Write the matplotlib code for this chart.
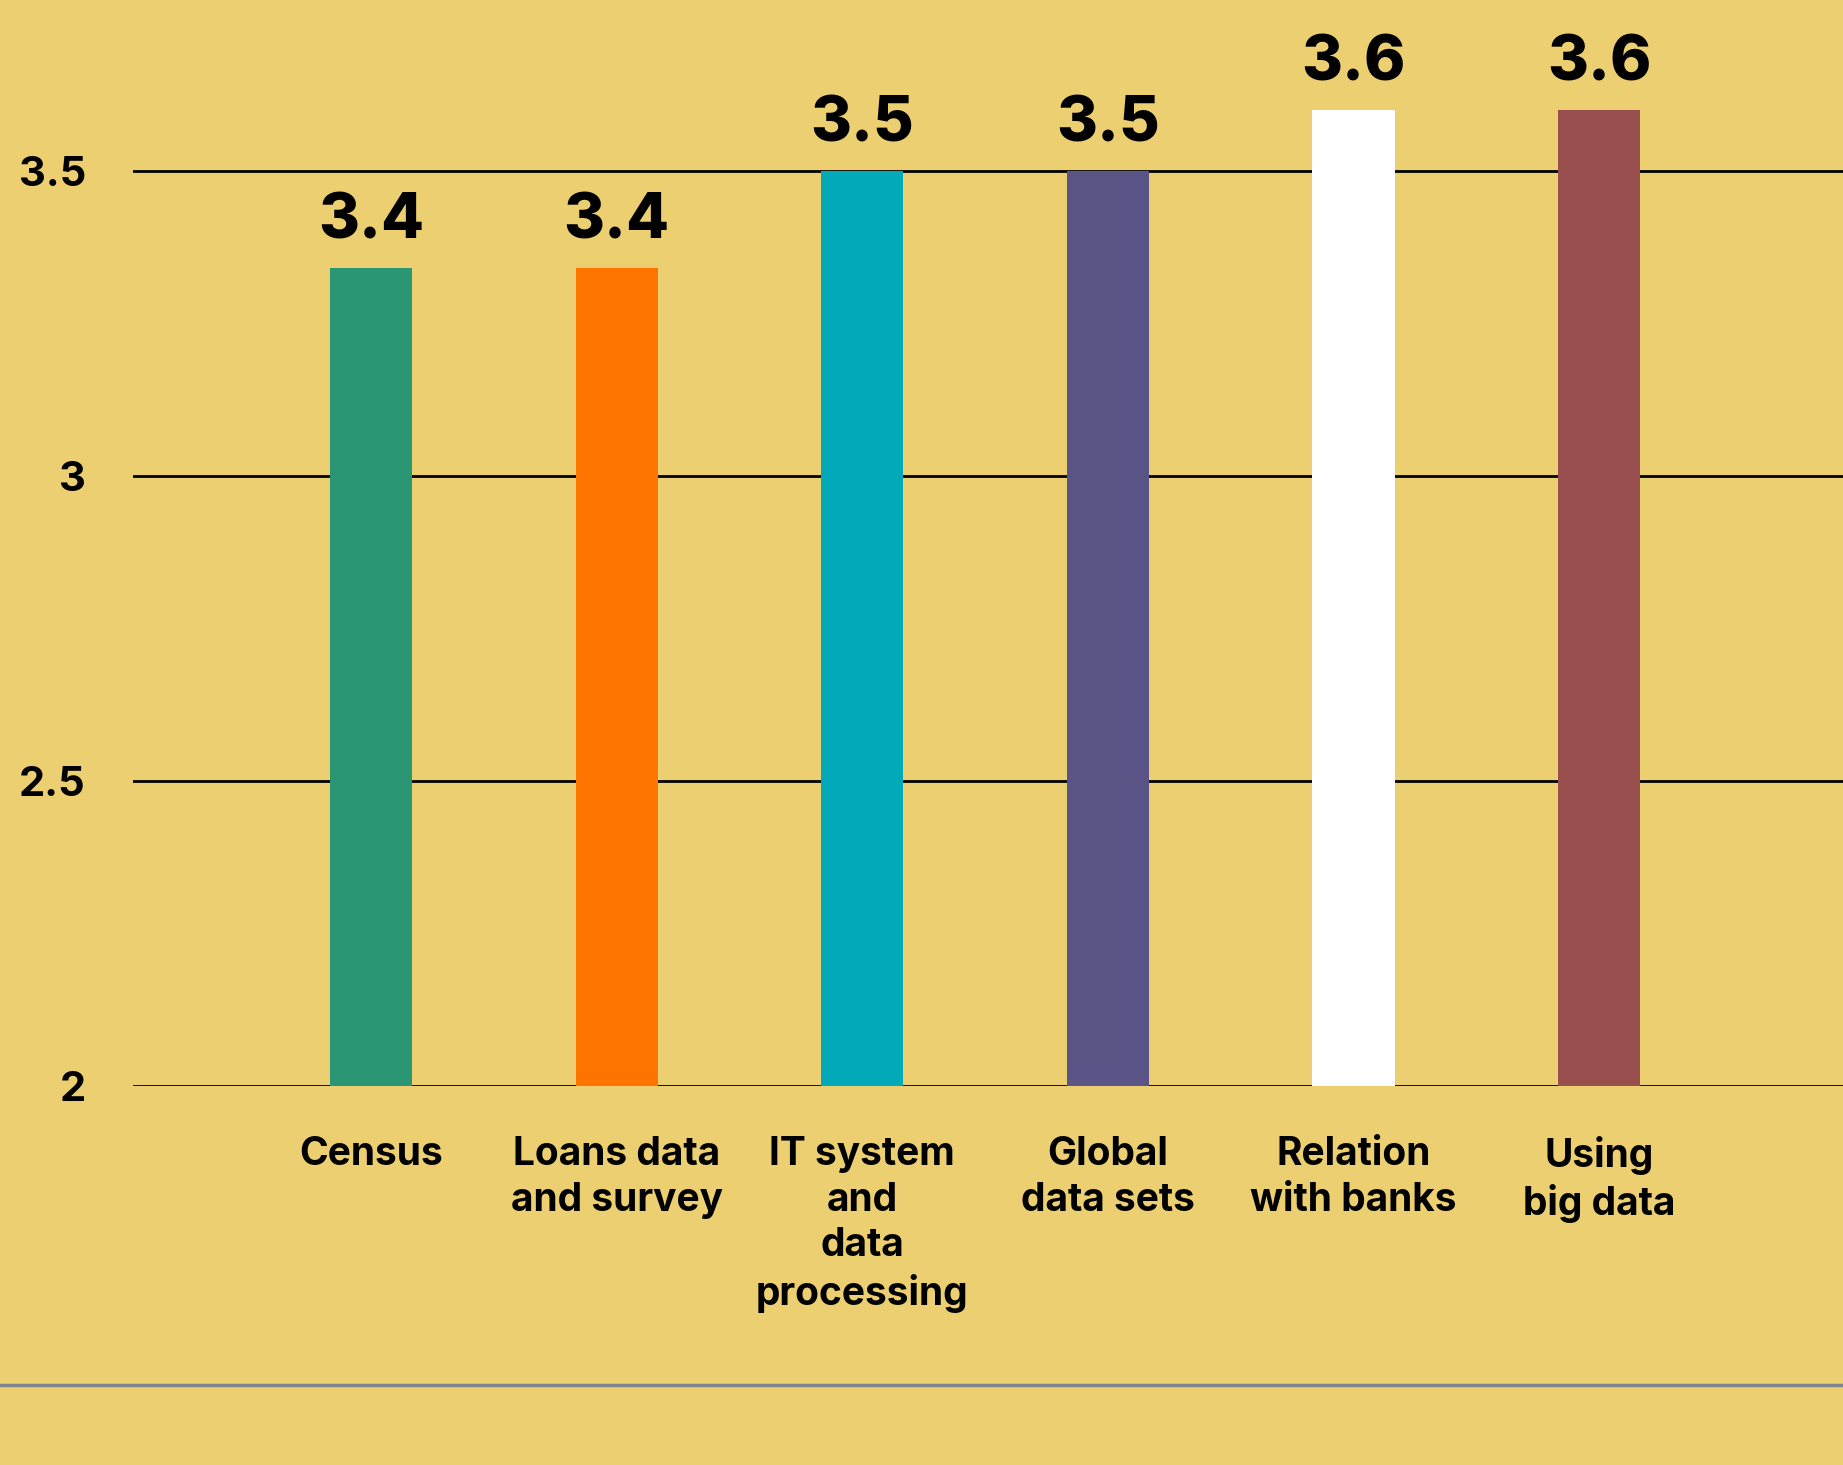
import matplotlib.pyplot as plt
import numpy as np

categories = ['Census', 'Loans data\nand survey', 'IT system\nand\ndata\nprocessing',
              'Global\ndata sets', 'Relation\nwith banks', 'Using\nbig data']
values = [3.34, 3.34, 3.5, 3.5, 3.6, 3.6]
value_labels = ['3.4', '3.4', '3.5', '3.5', '3.6', '3.6']
colors = ['#2A9673', '#FD7500', '#02A9B8', '#5B5486', '#FFFFFF', '#9A4F4F']
yticks = [2, 2.5, 3, 3.5]
ytick_labels = ['2', '2.5', '3', '3.5']

bg = '#EBCF70'
font = 'Inter'

fig = plt.figure(figsize=(18.43, 14.65), dpi=100, facecolor=bg)
ax = fig.add_axes([0.0722, 0.2587, 0.9278, 0.7413])
ax.set_facecolor(bg)

x = np.arange(len(categories))
ax.bar(x, [v - 2 for v in values], bottom=2, width=0.334, color=colors, zorder=3)

for xi, v, lab in zip(x, values, value_labels):
    ax.annotate(lab, (xi, v), xytext=(0, 12), textcoords='offset points',
                ha='center', va='bottom', fontsize=45, fontweight='heavy',
                family=font, color='black', annotation_clip=False)

ax.set_xlim(-0.969, 5.993)
ax.set_ylim(2, 3.78)
ax.set_yticks(yticks)
ax.set_yticklabels(ytick_labels, fontsize=30, fontweight='bold', family=font)
ax.tick_params(axis='y', length=0, pad=34)
ax.set_xticks(x)
ax.set_xticklabels(categories, fontsize=28, fontweight='bold', family=font,
                   linespacing=1.3)
ax.tick_params(axis='x', length=0, pad=36)

ax.grid(axis='y', color='black', linewidth=2, zorder=1)
for s in ax.spines.values():
    s.set_visible(False)

fig.add_artist(plt.Line2D([0, 1], [1 - 1385 / 1465] * 2, color='#7F8490',
                          linewidth=2.5, transform=fig.transFigure))

fig.savefig('out.png', dpi=100, facecolor=bg)
